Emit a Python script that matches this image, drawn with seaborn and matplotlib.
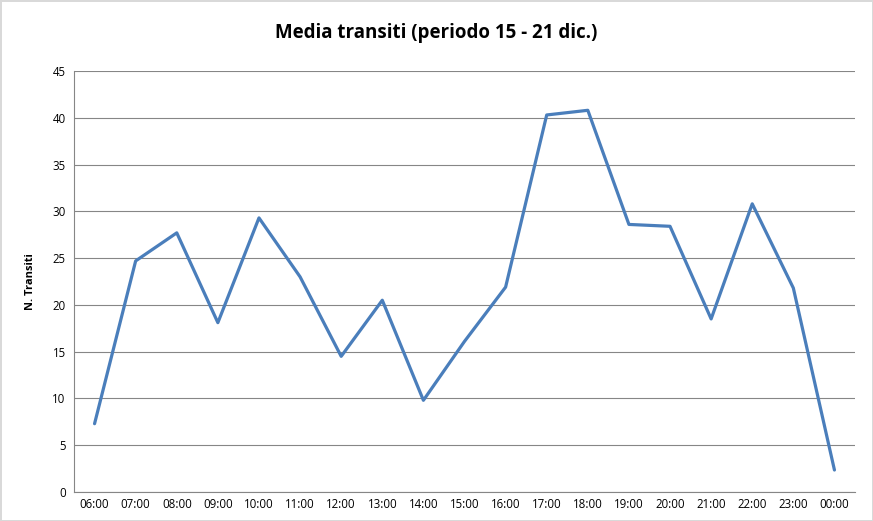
import matplotlib
matplotlib.use("Agg")
import matplotlib.pyplot as plt
import seaborn as sns
import pandas as pd

hours = ["06:00", "07:00", "08:00", "09:00", "10:00", "11:00", "12:00", "13:00",
         "14:00", "15:00", "16:00", "17:00", "18:00", "19:00", "20:00", "21:00",
         "22:00", "23:00", "00:00"]
transits = [7.3, 24.7, 27.7, 18.1, 29.3, 23.0, 14.5, 20.5, 9.8, 16.1, 21.9,
            40.3, 40.8, 28.6, 28.4, 18.5, 30.8, 21.8, 2.35]

sns.set_theme(style="white")
plt.rcParams['font.family'] = ['Open Sans', 'DejaVu Sans']
plt.rcParams['text.color'] = 'black'
plt.rcParams['axes.labelcolor'] = 'black'
plt.rcParams['xtick.color'] = 'black'
plt.rcParams['ytick.color'] = 'black'

df = pd.DataFrame({"pos": range(len(hours)), "val": transits})

fig = plt.figure(figsize=(8.73, 5.21), dpi=100)
fig.patch.set_edgecolor("#d9d9d9")
fig.patch.set_linewidth(2)
ax = fig.add_axes([74/873, 1-492/521, (855-74)/873, (492-71)/521])

sns.lineplot(data=df, x="pos", y="val", ax=ax, color="#4a7ebb", linewidth=2.3)

ax.set_xlim(-0.5, len(hours) - 0.5)
ax.set_ylim(0, 45)
ax.set_yticks(range(0, 46, 5))
ax.set_xticks(range(len(hours)))
ax.set_xticklabels(hours, fontsize=8.3)
ax.tick_params(axis="y", labelsize=8.3, length=0, pad=6)
ax.tick_params(axis="x", length=0, pad=4)
ax.yaxis.grid(True, color="#868686", linewidth=0.8)
ax.set_axisbelow(True)
for s in ["top", "right"]:
    ax.spines[s].set_visible(False)
for s in ["left", "bottom"]:
    ax.spines[s].set_color("#868686")
    ax.spines[s].set_linewidth(0.8)
ax.set_xlabel("")
ax.set_ylabel("N. Transiti", fontsize=8, fontweight="bold", labelpad=12)
fig.text(0.5, 1-33/521, "Media transiti (periodo 15 - 21 dic.)", ha="center", va="center",
         fontsize=13.5, fontweight="bold")

fig.savefig("out.png", dpi=100, edgecolor=fig.get_edgecolor())
